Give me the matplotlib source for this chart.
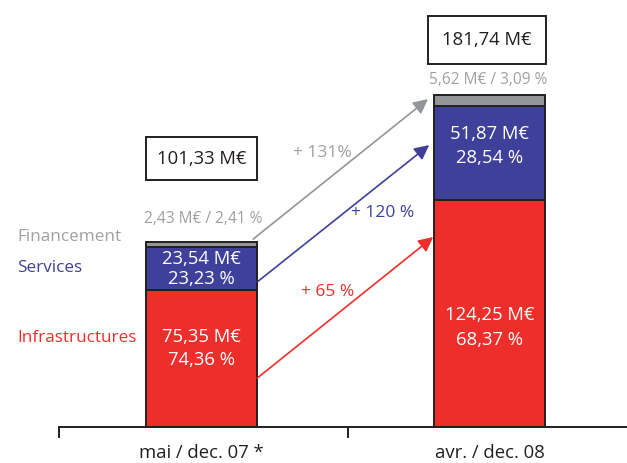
import matplotlib
matplotlib.use('Agg')
import matplotlib.pyplot as plt
from matplotlib.patches import Rectangle

plt.rcParams['font.family'] = ['Open Sans', 'DejaVu Sans']

# data
periods = ['mai / dec. 07 *', 'avr. / dec. 08']
infra = [75.35, 124.25]
services = [23.54, 51.87]
financement = [2.43, 5.62]
infra_pct = ['74,36 %', '68,37 %']
services_pct = ['23,23 %', '28,54 %']
fin_pct = ['2,41 %', '3,09 %']
totals = [101.33, 181.74]
growth = ['+ 65 %', '+ 120 %', '+ 131%']

RED = '#ee2e2a'
BLUE = '#3e4099'
GREY = '#939598'
GREY_TXT = '#a0a0a0'
EDGE = '#231f20'


def fmt(v):
    return '{:.2f}'.format(v).replace('.', ',')


fig = plt.figure(figsize=(6.27, 4.63), dpi=100)
ax = fig.add_axes([0, 0, 1, 1])
ax.set_xlim(-0.70, 1.477)
ax.set_ylim(-19.7, 234)
ax.axis('off')

x = [0, 1]
w = 0.385
bottom_s = infra
bottom_f = [a + b for a, b in zip(infra, services)]
ax.bar(x, infra, w, color=RED, edgecolor=EDGE, linewidth=1.4)
ax.bar(x, services, w, bottom=bottom_s, color=BLUE, edgecolor=EDGE, linewidth=1.4)
ax.bar(x, financement, w, bottom=bottom_f, color=GREY, edgecolor=EDGE, linewidth=1.4)

# baseline and ticks
ax.plot([-0.495, 1.477], [0, 0], color=EDGE, lw=1.4, solid_capstyle='butt')
for t in [-0.495, 0.509]:
    ax.plot([t, t], [0, -5.5], color=EDGE, lw=1.4)
for xi, lab in zip(x, periods):
    ax.text(xi, -14.2, lab, ha='center', va='center', fontsize=13.3, color='#231f20')

# values inside bars
red_y = [(49.3, 36.7), (61.4, 47.7)]
blue_y = [(92.1, 81.1), (160.5, 147.4)]
for i in range(2):
    ax.text(x[i], red_y[i][0], fmt(infra[i]) + ' M€', ha='center', va='center',
            fontsize=13.3, color='white')
    ax.text(x[i], red_y[i][1], infra_pct[i], ha='center', va='center',
            fontsize=13.3, color='white')
    ax.text(x[i], blue_y[i][0], fmt(services[i]) + ' M€', ha='center', va='center',
            fontsize=13.3, color='white')
    ax.text(x[i], blue_y[i][1], services_pct[i], ha='center', va='center',
            fontsize=13.3, color='white')

# financement labels above bars
fin_y = [114, 190.1]
fin_x = [0.005, 0.995]
for i in range(2):
    ax.text(fin_x[i], fin_y[i], fmt(financement[i]) + ' M€ / ' + fin_pct[i],
            ha='center', va='center', fontsize=11.2, color=GREY_TXT)

# total boxes
boxes = [(-0.193, 135.3, 0.386, 23.6), (0.786, 198.9, 0.41, 26.3)]
for (bx, by, bw, bh), tot in zip(boxes, totals):
    ax.add_patch(Rectangle((bx, by), bw, bh, fill=False, edgecolor=EDGE, lw=1.4))
    ax.text(bx + bw / 2, by + bh / 2, fmt(tot) + ' M€', ha='center', va='center',
            fontsize=13.3, color='#231f20')

# series names on the left
ax.text(-0.641, 104.1, 'Financement', ha='left', va='center', fontsize=12.3, color=GREY_TXT)
ax.text(-0.641, 87.1, 'Services', ha='left', va='center', fontsize=12.3, color=BLUE)
ax.text(-0.641, 48.8, 'Infrastructures', ha='left', va='center', fontsize=12.3, color=RED)

# growth arrows
arrows = [((0.193, 26.8), (0.804, 104.1), RED),
          ((0.193, 79.5), (0.790, 154.5), BLUE),
          ((0.179, 103.0), (0.786, 179.7), GREY)]
for (p0, p1, c) in arrows:
    ax.annotate('', xy=p1, xytext=p0,
                arrowprops=dict(arrowstyle='-|>', color=c, lw=1.2,
                                mutation_scale=22, shrinkA=0, shrinkB=0))

growth_pos = [(0.436, 74.0), (0.627, 117.3), (0.418, 150.1)]
growth_col = [RED, BLUE, GREY_TXT]
for (gx, gy), lab, c in zip(growth_pos, growth, growth_col):
    ax.text(gx, gy, lab, ha='center', va='center', fontsize=12.5, color=c)

fig.savefig('out.png', dpi=100)
